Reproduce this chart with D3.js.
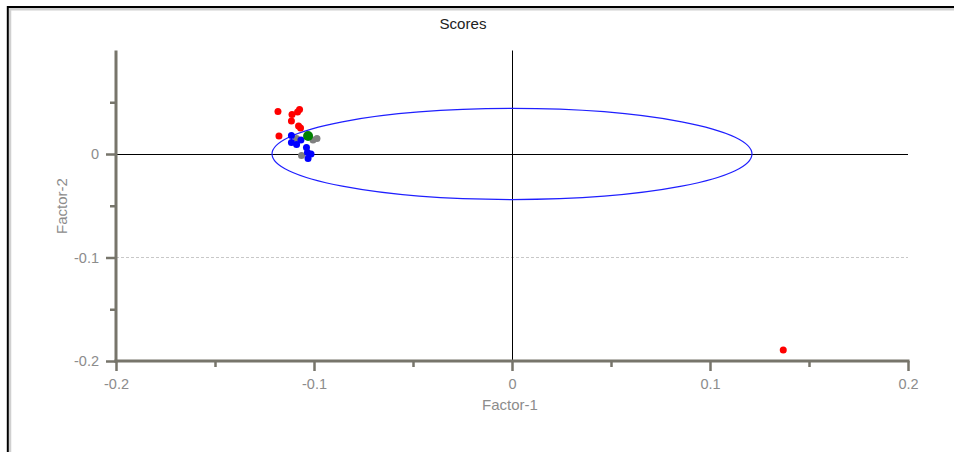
<!DOCTYPE html>
<html>
<head>
<meta charset="utf-8">
<script src="https://cdn.jsdelivr.net/npm/d3@7"></script>
<style>
html,body{margin:0;padding:0;background:#fff;overflow:hidden;}
svg{display:block;}
</style>
</head>
<body>
<svg id="chart" width="954" height="452"></svg>
<script>
// ---- data ----
const xTicks = [-0.2, -0.1, 0, 0.1, 0.2];
const xMinorTicks = [-0.15, -0.05, 0.05, 0.15];
const yTicks = [-0.2, -0.1, 0];
const yMinorTicks = [-0.15, -0.05, 0.05];
const xTickLabels = ["-0.2", "-0.1", "0", "0.1", "0.2"];
const yTickLabels = ["-0.2", "-0.1", "0"];

const redPoints = [
  [-0.1182, 0.0411], [-0.1111, 0.0382], [-0.1083, 0.0406], [-0.1073, 0.0430],
  [-0.1114, 0.0319], [-0.1078, 0.0271], [-0.1068, 0.0251], [-0.1177, 0.0174],
  [0.1370, -0.1894]
];
const bluePoints = [
  [-0.1114, 0.0179], [-0.1066, 0.0135], [-0.1114, 0.0111], [-0.1088, 0.0092],
  [-0.1038, 0.0063], [-0.1033, 0.0014], [-0.1015, 0.0000], [-0.1030, -0.0043]
];
const grayPoints = [
  [-0.1088, 0.0150], [-0.0985, 0.0150], [-0.1063, -0.0014], [-0.1005, 0.0135]
];
const greenPoints = [[-0.1030, 0.0174]];
const ellipseCenter = [0.0, 0.0];
const ellipseRadii = [0.1212, 0.0440];

// ---- drawing ----
const svg = d3.select("#chart");
const W = 954, H = 452;

// frame with shadow
svg.append("line").attr("x1", 10).attr("x2", 10).attr("y1", 9).attr("y2", H).attr("stroke", "#d0d0d0").attr("stroke-width", 2.5);
svg.append("line").attr("x1", 9).attr("x2", W).attr("y1", 9.3).attr("y2", 9.3).attr("stroke", "#d0d0d0").attr("stroke-width", 2.5);
svg.append("line").attr("x1", 7.8).attr("x2", 7.8).attr("y1", 6).attr("y2", H).attr("stroke", "#000").attr("stroke-width", 2);
svg.append("line").attr("x1", 7).attr("x2", W).attr("y1", 7).attr("y2", 7).attr("stroke", "#000").attr("stroke-width", 2);

const x = d3.scaleLinear().domain([-0.2, 0.2]).range([116, 908]);
const y = d3.scaleLinear().domain([-0.2, 0.1]).range([361, 50.5]);

const axisColor = "#77756b";
const labelColor = "#8c8c8c";
const font = "'Liberation Sans', Arial, sans-serif";

// dashed grid at -0.1
svg.append("line")
  .attr("x1", x(-0.2)).attr("x2", x(0.2))
  .attr("y1", y(-0.1)).attr("y2", y(-0.1))
  .attr("stroke", "#c8c8c8").attr("stroke-width", 1).attr("stroke-dasharray", "3,2");

// zero lines
svg.append("line")
  .attr("x1", x(-0.2)).attr("x2", x(0.2))
  .attr("y1", Math.round(y(0)) + 0.5).attr("y2", Math.round(y(0)) + 0.5)
  .attr("stroke", "#000").attr("stroke-width", 1);
svg.append("line")
  .attr("x1", Math.round(x(0)) + 0.5).attr("x2", Math.round(x(0)) + 0.5)
  .attr("y1", y(0.1)).attr("y2", y(-0.2))
  .attr("stroke", "#000").attr("stroke-width", 1);

// ellipse
svg.append("ellipse")
  .attr("cx", x(ellipseCenter[0])).attr("cy", y(ellipseCenter[1]))
  .attr("rx", x(ellipseRadii[0]) - x(0)).attr("ry", y(0) - y(ellipseRadii[1]))
  .attr("fill", "none").attr("stroke", "#1f1fff").attr("stroke-width", 1.2);

// axes
const xAxis = d3.axisBottom(x).tickValues(xTicks).tickFormat((d, i) => xTickLabels[i]).tickSize(10).tickPadding(8);
const xAxisMinor = d3.axisBottom(x).tickValues(xMinorTicks).tickFormat("").tickSize(6);
const yAxis = d3.axisLeft(y).tickValues(yTicks).tickFormat((d, i) => yTickLabels[i]).tickSize(10).tickPadding(7);
const yAxisMinor = d3.axisLeft(y).tickValues(yMinorTicks).tickFormat("").tickSize(6);

function styleAxis(g) {
  g.select(".domain").remove();
  g.selectAll(".tick line").attr("stroke", axisColor).attr("stroke-width", 2.5);
  g.selectAll(".tick text").attr("fill", labelColor).style("font-family", font).style("font-size", "14.5px");
}

svg.append("g").attr("transform", `translate(0,${y(-0.2)})`).call(xAxis).call(styleAxis);
svg.append("g").attr("transform", `translate(0,${y(-0.2)})`).call(xAxisMinor).call(styleAxis);
svg.append("g").attr("transform", `translate(${x(-0.2)},0)`).call(yAxis).call(styleAxis);
svg.append("g").attr("transform", `translate(${x(-0.2)},0)`).call(yAxisMinor).call(styleAxis);

// axis lines
svg.append("line").attr("x1", x(-0.2)).attr("x2", x(-0.2)).attr("y1", y(0.1)).attr("y2", y(-0.2) + 1.5)
  .attr("stroke", axisColor).attr("stroke-width", 3);
svg.append("line").attr("x1", x(-0.2) - 1.5).attr("x2", x(0.2) + 1.5).attr("y1", y(-0.2)).attr("y2", y(-0.2))
  .attr("stroke", axisColor).attr("stroke-width", 3);

// points
function drawPoints(data, color, r) {
  svg.append("g").selectAll("circle").data(data).join("circle")
    .attr("cx", d => x(d[0])).attr("cy", d => y(d[1]))
    .attr("r", r).attr("fill", color);
}
drawPoints(grayPoints, "#808080", 3.5);
drawPoints(redPoints, "#ff0000", 3.5);
drawPoints(bluePoints, "#0000ff", 3.5);
drawPoints(greenPoints, "#008000", 5);

// titles
svg.append("text").attr("x", 463).attr("y", 29).attr("text-anchor", "middle")
  .attr("fill", "#222").style("font-family", font).style("font-size", "14px")
  .attr("textLength", 47).attr("lengthAdjust", "spacingAndGlyphs")
  .text("Scores");
svg.append("text").attr("x", 510).attr("y", 410).attr("text-anchor", "middle")
  .attr("fill", labelColor).style("font-family", font).style("font-size", "15px")
  .text("Factor-1");
svg.append("text").attr("transform", "translate(67,206) rotate(-90)").attr("text-anchor", "middle")
  .attr("fill", labelColor).style("font-family", font).style("font-size", "15px")
  .text("Factor-2");
</script>
</body>
</html>
